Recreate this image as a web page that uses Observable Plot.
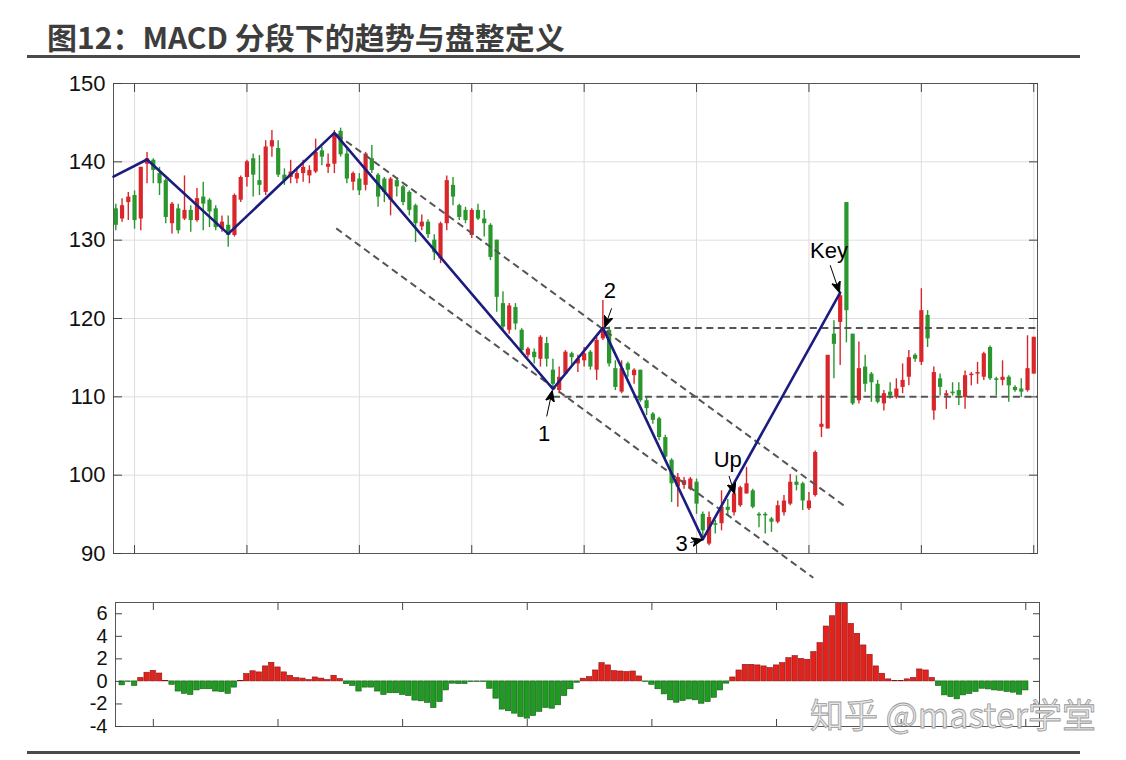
<!DOCTYPE html>
<html><head><meta charset="utf-8">
<script src="https://cdn.jsdelivr.net/npm/d3@7"></script>
<script src="https://cdn.jsdelivr.net/npm/@observablehq/plot@0.6"></script>
<style>
html,body{margin:0;padding:0;background:#fff;}
#page{position:relative;width:1126px;height:760px;overflow:hidden;background:#fff;}
#title{position:absolute;left:47px;top:14px;font-family:"Noto Sans CJK SC","Noto Sans",sans-serif;font-weight:700;font-size:30px;color:#3d3d3d;white-space:nowrap;}
#rule1{position:absolute;left:27px;top:55px;width:1053px;height:3px;background:#4a4a4a;}
#rule2{position:absolute;left:27px;top:751px;width:1053px;height:3px;background:#4a4a4a;}
#main{position:absolute;left:0;top:70px;}
#macd{position:absolute;left:0;top:600px;}
#wm{position:absolute;left:810px;top:689px;font-family:"Noto Sans CJK SC",sans-serif;font-size:34px;color:#e6e6e6;-webkit-text-stroke:0.8px #9a9a9a;white-space:nowrap;}
svg{overflow:visible;}
</style></head>
<body><div id="page">
<div id="title">图12：MACD 分段下的趋势与盘整定义</div>
<div id="rule1"></div>
<div id="main"></div>
<div id="macd"></div>
<div id="rule2"></div>
<div id="wm">知乎 @master学堂</div>
</div>
<script>
// ---- candle data (index 0..147) ----
const open  = [134.0,132.7,134.8,135.7,132.7,139.7,140.2,138.5,137.6,132.1,134.0,132.7,133.8,132.5,135.5,135.1,134.0,131.4,131.9,130.6,135.1,138.0,140.4,137.6,136.1,141.9,141.7,138.3,138.0,137.8,138.5,138.2,138.7,141.4,139.3,139.7,143.9,141.0,137.4,137.8,137.0,140.4,138.3,137.8,135.1,137.6,136.8,136.1,134.4,
131.7,132.3,130.0,127.6,132.1,137.0,134.4,133.8,130.6,133.8,132.7,131.9,130.0,121.9,118.5,121.4,118.5,115.3,115.7,114.8,116.8,113.4,110.8,112.9,115.5,114.2,114.6,115.7,113.4,117.4,118.5,113.6,110.6,114.2,112.7,113.4,109.5,107.8,107.2,104.8,101.9,98.5,98.7,98.2,99.1,95.0,91.2,93.8,93.8,
95.9,95.2,96.1,97.6,98.0,95.0,95.0,94.4,94.0,95.2,96.3,99.1,98.9,95.7,97.4,106.1,105.9,118.0,119.5,134.8,118.0,109.5,113.8,112.9,111.6,109.1,110.6,109.9,111.2,112.5,115.3,114.4,120.4,108.2,112.3,110.1,110.6,110.8,109.9,112.7,112.9,112.5,116.3,112.3,112.1,112.5,111.2,111.0,110.8,112.9];
const high  = [134.6,135.3,136.1,136.3,139.3,141.2,140.4,139.3,137.8,134.8,134.6,138.2,134.4,136.6,137.4,135.3,134.4,133.1,133.1,135.9,138.2,140.2,141.0,140.8,142.7,144.0,142.7,139.1,140.2,139.3,140.2,139.5,142.9,141.9,141.0,144.0,144.3,141.9,138.7,138.5,141.2,142.1,138.5,138.0,138.0,138.0,137.0,136.3,134.6,
133.2,132.6,130.7,132.3,138.2,138.0,134.6,134.2,134.0,134.6,133.8,132.1,130.0,123.4,121.9,121.9,118.7,116.3,116.1,117.8,117.6,114.8,113.8,115.9,115.7,115.3,116.3,115.9,117.6,122.3,118.9,114.6,114.6,114.4,113.6,113.4,109.9,108.0,107.4,105.1,102.1,100.2,99.7,99.7,99.5,95.3,95.3,94.2,98.0,
96.9,98.2,98.6,101.0,98.2,95.2,95.2,94.6,96.7,97.4,100.1,99.9,99.1,97.8,103.1,110.2,115.3,119.7,123.3,134.8,118.0,117.0,115.3,113.1,112.1,110.8,111.8,112.3,114.2,115.9,115.5,123.8,121.0,113.8,112.9,110.8,111.8,111.8,113.3,113.1,114.4,115.7,116.5,112.5,114.6,112.7,111.4,112.3,117.8,117.6];
const low   = [131.2,132.3,132.5,131.4,131.2,137.2,137.2,135.7,132.1,130.8,130.8,132.5,131.0,132.3,131.2,131.6,131.2,131.0,129.1,130.4,134.8,136.8,135.5,135.7,135.7,140.6,138.0,137.0,137.2,137.2,137.4,137.2,138.5,139.5,138.5,138.5,140.6,137.2,136.3,135.7,136.3,138.5,134.2,134.8,133.1,135.5,134.4,133.1,129.7,
131.2,130.2,127.4,127.0,131.2,134.4,132.5,132.1,130.2,132.5,130.4,127.4,120.8,118.5,118.0,118.5,115.7,115.0,114.2,113.8,113.8,111.2,110.4,112.7,113.8,113.1,113.8,113.4,112.1,117.2,113.8,110.8,110.4,112.5,111.6,109.3,107.6,106.5,104.4,101.9,96.5,95.9,98.2,98.0,95.0,92.1,91.0,92.5,92.9,
94.8,94.8,95.9,97.6,95.7,93.3,92.5,92.7,93.8,94.8,96.1,98.0,95.5,95.5,97.2,104.8,105.9,112.3,114.0,116.9,108.9,109.1,110.6,109.3,109.1,108.2,109.7,109.7,110.4,111.4,114.4,114.0,116.3,107.0,110.1,108.4,110.1,108.9,108.4,111.4,111.6,112.1,112.1,110.1,111.4,109.3,110.6,109.9,110.6,112.9];
const close = [131.9,134.4,135.5,132.5,139.3,140.4,138.9,137.2,132.9,134.6,131.2,133.8,132.5,135.3,134.6,133.6,131.6,132.3,130.6,135.7,138.0,140.0,138.3,137.0,141.9,142.7,138.3,137.6,138.7,138.5,139.3,138.9,141.2,140.6,139.7,143.6,140.9,137.8,138.5,136.3,141.0,138.9,135.5,136.1,137.8,136.8,134.8,133.8,132.1,
132.3,130.7,128.4,132.1,137.6,135.5,132.9,132.5,133.8,132.7,132.1,127.8,122.7,118.9,121.6,119.3,115.9,116.1,115.0,117.6,114.8,111.6,112.5,115.7,115.0,114.8,115.5,113.8,117.2,118.7,114.2,111.2,113.6,113.4,113.4,109.5,108.5,107.0,104.8,102.3,98.9,99.7,99.3,99.5,96.3,92.9,94.6,93.6,95.9,
95.5,97.6,98.4,98.9,95.9,94.8,94.8,94.0,96.1,96.7,99.1,98.7,96.7,96.7,102.9,106.5,115.3,116.7,122.9,121.0,109.1,113.6,111.6,111.8,109.3,110.4,110.1,111.0,112.1,115.0,114.8,121.0,117.4,113.1,111.2,110.4,110.4,110.1,112.7,112.9,113.1,115.5,112.3,112.1,112.5,111.4,110.8,110.6,113.6,117.6];

// ---- zigzag segmentation (candle index, price) ----
const zigIndex = [-0.37, 5, 18, 35, 70, 78, 94, 116];
const zigPrice = [138.1, 140.3, 130.8, 143.7, 111.0, 118.8, 91.8, 123.3];

// ---- dashed trend channel & range lines ----
const dashX1 = [35.4, 35.3, 70, 78];
const dashY1 = [143.5, 131.5, 110.0, 118.8];
const dashX2 = [116.8, 111.7, 147.6, 147.6];
const dashY2 = [96.0, 86.9, 110.0, 118.8];

// ---- annotations ----
const noteText  = ["1", "2", "3", "Up", "Key"];
const noteX     = [68.6, 79.1, 90.6, 98.0, 114.2];
const noteY     = [105.2, 123.5, 91.2, 101.9, 128.6];
const arrowX1   = [69.0, 79.4, 92.0, 98.2, 114.4];
const arrowY1   = [107.5, 121.3, 91.4, 99.9, 126.8];
const arrowX2   = [69.9, 78.3, 94.0, 99.1, 115.9];
const arrowY2   = [110.8, 118.9, 91.8, 97.6, 123.3];

// ---- MACD histogram (bars for candle index 1..146) ----
const macdHist = [-0.35,-0.05,-0.4,0.3,0.77,0.94,0.7,0.05,-0.3,-0.9,-1.1,-1.2,-0.8,-0.7,-0.7,-0.9,-0.95,-1.1,-0.55,0.05,
0.65,0.9,0.8,1.33,1.65,1.24,0.8,0.5,0.3,0.25,0.12,0.35,0.25,0.12,0.5,0.2,-0.24,-0.4,-0.9,-0.55,
-0.55,-0.9,-1.2,-1.05,-1.05,-1.2,-1.3,-1.7,-1.77,-1.9,-2.36,-1.83,-0.8,-0.2,-0.24,-0.24,-0.06,-0.06,-0.06,-0.65,
-1.53,-2.5,-2.65,-2.86,-3.16,-3.3,-3.07,-2.7,-2.36,-2.42,-2.12,-1.3,-0.7,-0.12,0.24,0.38,0.97,1.62,1.42,0.91,
0.88,0.83,0.88,0.44,-0.05,-0.3,-0.7,-1.15,-1.68,-1.89,-1.74,-1.6,-1.68,-1.98,-1.83,-1.45,-0.8,-0.2,0.35,0.97,
1.47,1.47,1.42,1.33,1.18,1.42,1.62,2.06,2.24,2.0,1.92,2.6,3.39,4.87,5.78,7.3,7.3,5.1,4.22,3.19,
2.36,1.33,0.68,0.18,0.03,0.02,0.18,0.3,1.06,0.97,0.3,-0.41,-1.24,-1.39,-1.59,-1.24,-1.12,-0.94,-0.65,-0.71,
-0.8,-0.83,-0.94,-1.0,-1.18,-0.8];

// ---- axes ----
const mainYTicks = [90, 100, 110, 120, 130, 140, 150];
const mainXTicks = [3, 21, 39, 57, 75, 93, 111, 129, 147];
const macdYTicks = [-4, -2, 0, 2, 4, 6];
const macdXTicks = [6, 26, 46, 66, 86, 106, 126, 146];

const RED = "#d9262a", GREEN = "#2a962e", RED_BAR = "#e3221c", GREEN_BAR = "#1f9a22";
const FONT = "'Liberation Sans', Arial, Helvetica, sans-serif";

const candles = open.map((o, i) => ({i, open: o, high: high[i], low: low[i], close: close[i], up: close[i] >= o}));
const zig = zigIndex.map((x, k) => ({x, y: zigPrice[k]}));
const dashes = dashX1.map((x1, k) => ({x1, y1: dashY1[k], x2: dashX2[k], y2: dashY2[k]}));
const notes = noteText.map((t, k) => ({t, x: noteX[k], y: noteY[k], x1: arrowX1[k], y1: arrowY1[k], x2: arrowX2[k], y2: arrowY2[k]}));
const bars = macdHist.map((v, k) => ({j: k + 1, v}));

function filledArrow(color, context) {
  const doc = (context && context.document) || document;
  const ns = "http://www.w3.org/2000/svg";
  const m = doc.createElementNS(ns, "marker");
  m.setAttribute("viewBox", "-11 -5 12 10");
  m.setAttribute("markerWidth", "12");
  m.setAttribute("markerHeight", "10");
  m.setAttribute("markerUnits", "userSpaceOnUse");
  m.setAttribute("orient", "auto");
  m.setAttribute("refX", "0");
  m.setAttribute("refY", "0");
  const p = doc.createElementNS(ns, "path");
  p.setAttribute("d", "M-11,-4.5L0,0L-11,4.5L-8,0Z");
  p.setAttribute("fill", color);
  m.appendChild(p);
  return m;
}

function buildMain(marker) {
  return Plot.plot({
    width: 1126, height: 530,
    marginLeft: 113, marginRight: 89, marginTop: 13, marginBottom: 47,
    x: {domain: [-0.37, 147.6]},
    y: {domain: [90, 150]},
    style: {fontFamily: FONT, fontSize: "22px", color: "#111", background: "transparent", overflow: "visible"},
    marks: [
      Plot.gridX({ticks: mainXTicks, stroke: "#dedede", strokeOpacity: 1}),
      Plot.gridY({ticks: mainYTicks, stroke: "#dedede", strokeOpacity: 1}),
      Plot.frame({stroke: "#555"}),
      Plot.axisX({anchor: "bottom", ticks: mainXTicks, tickSize: -8, tickFormat: () => "", label: null, stroke: "#444"}),
      Plot.axisX({anchor: "top", ticks: mainXTicks, tickSize: -8, tickFormat: () => "", label: null, stroke: "#444"}),
      Plot.axisY({anchor: "left", ticks: mainYTicks, tickSize: -9, tickFormat: () => "", label: null, stroke: "#444"}),
      Plot.axisY({anchor: "right", ticks: mainYTicks, tickSize: -9, tickFormat: () => "", label: null, stroke: "#444"}),
      Plot.axisY({anchor: "left", ticks: mainYTicks, tickSize: 0, tickPadding: 8, label: null, fontSize: 22, fill: "#111"}),
      Plot.ruleX(candles, {x: "i", y1: "low", y2: "high", stroke: d => d.up ? RED : GREEN, strokeWidth: 1.4}),
      Plot.ruleX(candles, {x: "i", y1: "open", y2: "close", stroke: d => d.up ? RED : GREEN, strokeWidth: 4.2}),
      Plot.link(dashes, {x1: "x1", y1: "y1", x2: "x2", y2: "y2", stroke: "#555", strokeWidth: 2, strokeDasharray: "7,4.5"}),
      Plot.line(zig, {x: "x", y: "y", stroke: "#1c1c7e", strokeWidth: 2.6}),
      Plot.link(notes, {x1: "x1", y1: "y1", x2: "x2", y2: "y2", stroke: "#000", strokeWidth: 1, markerEnd: marker}),
      Plot.text(notes, {x: "x", y: "y", text: "t", fontSize: 22, fill: "#000", fontFamily: FONT})
    ]
  });
}

let mainSvg;
try { mainSvg = buildMain(filledArrow); } catch (e) { mainSvg = buildMain("arrow"); }
document.getElementById("main").appendChild(mainSvg);

const macdSvg = Plot.plot({
  width: 1126, height: 160,
  marginLeft: 115, marginRight: 87, marginTop: 2, marginBottom: 34,
  x: {domain: [-0.075, 148.2]},
  y: {domain: [-4, 7]},
  style: {fontFamily: FONT, fontSize: "20px", color: "#111", background: "transparent", overflow: "visible"},
  marks: [
    Plot.rect(bars, {x1: d => d.j - 0.43, x2: d => d.j + 0.43, y1: 0, y2: "v", fill: d => d.v >= 0 ? RED_BAR : GREEN_BAR, stroke: d => d.v >= 0 ? "#8a1010" : "#0f5c10", strokeWidth: 0.6, clip: true}),
    Plot.frame({stroke: "#555"}),
    Plot.axisX({anchor: "bottom", ticks: macdXTicks, tickSize: -7, tickFormat: () => "", label: null, stroke: "#444"}),
    Plot.axisX({anchor: "top", ticks: macdXTicks, tickSize: -7, tickFormat: () => "", label: null, stroke: "#444"}),
    Plot.axisY({anchor: "left", ticks: macdYTicks, tickSize: -7, tickFormat: () => "", label: null, stroke: "#444"}),
    Plot.axisY({anchor: "right", ticks: macdYTicks, tickSize: -7, tickFormat: () => "", label: null, stroke: "#444"}),
    Plot.axisY({anchor: "left", ticks: macdYTicks, tickSize: 0, tickPadding: 8, tickFormat: d => String(d), label: null, fontSize: 20, fill: "#111"})
  ]
});
document.getElementById("macd").appendChild(macdSvg);
</script>
</body></html>
